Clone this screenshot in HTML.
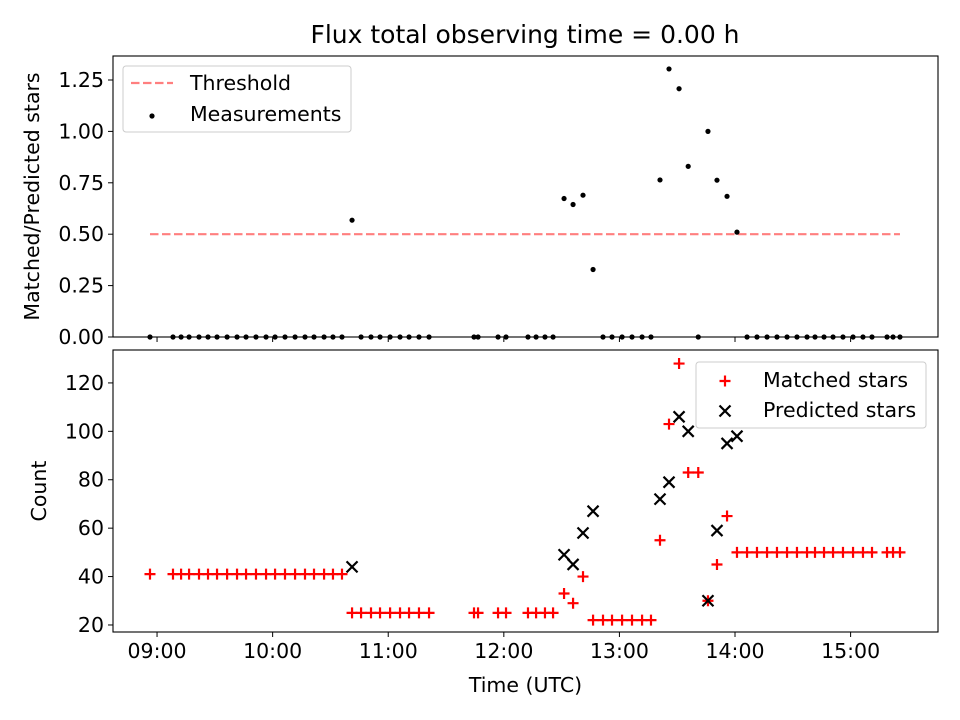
<!DOCTYPE html>
<html><head><meta charset="utf-8">
<style>
html,body{margin:0;padding:0;background:#fff;}
svg{display:block;font-family:"DejaVu Sans","Liberation Sans",sans-serif;}
</style></head>
<body>
<svg id="fig" width="960" height="720" viewBox="0 0 960 720" xmlns="http://www.w3.org/2000/svg"></svg>
<script>
// Observation times in decimal hours (UTC)
const times = [8.939,
9.138,9.208,9.277,9.363,9.441,9.519,9.606,9.692,9.770,9.856,9.943,10.021,10.107,10.194,10.280,10.358,10.445,10.522,10.600,
10.687,10.765,10.851,10.929,11.016,11.102,11.180,11.266,11.353,
11.742,11.777,11.950,12.019,12.209,12.279,12.356,12.426,
12.521,12.599,12.685,12.772,12.858,12.936,13.023,13.109,13.196,13.273,
13.351,13.429,13.516,13.595,13.682,13.766,13.844,13.931,14.017,
14.104,14.190,14.277,14.363,14.450,14.536,14.623,14.692,14.770,14.848,14.934,15.021,15.107,15.185,
15.315,15.367,15.427];
const matched = [41,
41,41,41,41,41,41,41,41,41,41,41,41,41,41,41,41,41,41,41,
25,25,25,25,25,25,25,25,25,
25,25,25,25,25,25,25,25,
33,29,40,22,22,22,22,22,22,22,
55,103,128,83,83,30,45,65,50,
50,50,50,50,50,50,50,50,50,50,50,50,50,50,
50,50,50];
const predicted = [null,
null,null,null,null,null,null,null,null,null,null,null,null,null,null,null,null,null,null,null,
44,null,null,null,null,null,null,null,null,
null,null,null,null,null,null,null,null,
49,45,58,67,null,null,null,null,null,null,
72,79,106,100,null,30,59,95,98,
null,null,null,null,null,null,null,null,null,null,null,null,null,null,
null,null,null];
const threshold = 0.5;
const topTicks = [0,0.25,0.5,0.75,1.0,1.25];
const topTickLabels = ["0.00","0.25","0.50","0.75","1.00","1.25"];
const botTicks = [20,40,60,80,100,120];
const xTicks = [9,10,11,12,13,14,15];
const xTickLabels = ["09:00","10:00","11:00","12:00","13:00","14:00","15:00"];

const NS="http://www.w3.org/2000/svg";
const svg=document.getElementById('fig');
function mk(tag,attrs,parent){const e=document.createElementNS(NS,tag);for(const k in attrs)e.setAttribute(k,attrs[k]);(parent||svg).appendChild(e);return e;}
const FS=20.5;
const L=113,R=938;
const X0=8.619,X1=15.756;
const xs=h=>L+(h-X0)/(X1-X0)*(R-L);
const T={top:56,bot:337,y0:0,y1:1.3667};
const B={top:350,bot:632,y0:17.1,y1:133.6};
const yt=v=>T.bot-(v-T.y0)/(T.y1-T.y0)*(T.bot-T.top);
const yb=v=>B.bot-(v-B.y0)/(B.y1-B.y0)*(B.bot-B.top);

// title
let t=mk('text',{x:525,y:43,'font-size':25,'text-anchor':'middle',fill:'#000'});
t.textContent='Flux total observing time = 0.00 h';



// TOP panel
const gT=mk('g',{});


const thr=mk('line',{x1:xs(Math.min(...times)),x2:xs(Math.max(...times)),y1:yt(threshold),y2:yt(threshold),stroke:'#ff7f7f','stroke-width':2.2,'stroke-dasharray':'8.5,3.5'},gT);


times.forEach((h,i)=>{
  const r=predicted[i]?matched[i]/predicted[i]:0;
  const c=mk('circle',{cx:xs(h),cy:yt(r),r:2.6,fill:'#000'},gT);
  
  
});
topTicks.forEach((v,i)=>{
  const y=yt(v);
  mk('line',{x1:L-5,x2:L,y1:y,y2:y,stroke:'#000','stroke-width':1},gT);
  const tx=mk('text',{x:L-9,y:y+7,'font-size':FS,'text-anchor':'end'},gT);
  tx.textContent=topTickLabels[i];
  
  
});
xTicks.forEach(h=>{mk('line',{x1:xs(h),x2:xs(h),y1:T.bot,y2:T.bot+5,stroke:'#000','stroke-width':1},gT);});
mk('rect',{x:L,y:T.top,width:R-L,height:T.bot-T.top,fill:'none',stroke:'#000','stroke-width':1.1},gT);
let yl=mk('text',{x:0,y:0,'font-size':FS,'text-anchor':'middle',transform:`translate(39,${(T.top+T.bot)/2}) rotate(-90)`},gT);
yl.textContent='Matched/Predicted stars';


// top legend
const lg1=mk('g',{},gT);


mk('rect',{x:123,y:66,width:228,height:66,rx:3,fill:'#fff','fill-opacity':0.8,stroke:'#ccc','stroke-width':1},lg1);
mk('line',{x1:131,x2:173,y1:83,y2:83,stroke:'#ff7f7f','stroke-width':2.2,'stroke-dasharray':'8.5,3.5'},lg1);
let l1=mk('text',{x:190,y:90,'font-size':FS},lg1);l1.textContent='Threshold';


mk('circle',{cx:152,cy:116,r:2.6,fill:'#000'},lg1);
let l2=mk('text',{x:190,y:121,'font-size':FS},lg1);l2.textContent='Measurements';



// BOTTOM panel
const gB=mk('g',{});


function plus(x,y,g,s){mk('path',{d:`M${x-s},${y}H${x+s}M${x},${y-s}V${y+s}`,stroke:'#f00','stroke-width':2.2,fill:'none'},g);}
function cross(x,y,g,s){mk('path',{d:`M${x-s},${y-s}L${x+s},${y+s}M${x-s},${y+s}L${x+s},${y-s}`,stroke:'#000','stroke-width':2.2,fill:'none'},g);}
times.forEach((h,i)=>{
  const gm=mk('g',{},gB);
  
  
  plus(xs(h),yb(matched[i]),gm,5.5);
});
times.forEach((h,i)=>{
  if(predicted[i]==null)return;
  const gp=mk('g',{},gB);
  
  
  cross(xs(h),yb(predicted[i]),gp,5.5);
});
botTicks.forEach(v=>{
  const y=yb(v);
  mk('line',{x1:L-5,x2:L,y1:y,y2:y,stroke:'#000','stroke-width':1},gB);
  const tx=mk('text',{x:L-9,y:y+7,'font-size':FS,'text-anchor':'end'},gB);
  tx.textContent=String(v);
  
  
});
xTicks.forEach((h,i)=>{
  mk('line',{x1:xs(h),x2:xs(h),y1:B.bot,y2:B.bot+5,stroke:'#000','stroke-width':1},gB);
  const tx=mk('text',{x:xs(h),y:B.bot+26,'font-size':FS,'text-anchor':'middle'},gB);
  tx.textContent=xTickLabels[i];
  
  
});
mk('rect',{x:L,y:B.top,width:R-L,height:B.bot-B.top,fill:'none',stroke:'#000','stroke-width':1.1},gB);
let yl2=mk('text',{x:0,y:0,'font-size':FS,'text-anchor':'middle',transform:`translate(46,${(B.top+B.bot)/2}) rotate(-90)`},gB);
yl2.textContent='Count';


let xl=mk('text',{x:(L+R)/2,y:692,'font-size':FS,'text-anchor':'middle'},gB);
xl.textContent='Time (UTC)';


// bottom legend
const lg2=mk('g',{},gB);


mk('rect',{x:696,y:362,width:230,height:66,rx:3,fill:'#fff','fill-opacity':0.8,stroke:'#ccc','stroke-width':1},lg2);
plus(725,381,lg2,5.5);
let l3=mk('text',{x:763,y:387,'font-size':FS},lg2);l3.textContent='Matched stars';


cross(725,411,lg2,5.5);
let l4=mk('text',{x:763,y:417,'font-size':FS},lg2);l4.textContent='Predicted stars';


</script>
</body></html>
